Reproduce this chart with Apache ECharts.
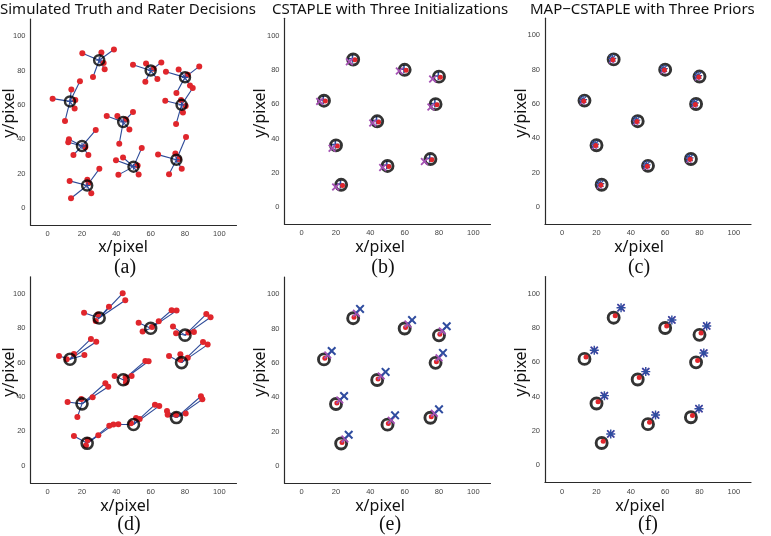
<!DOCTYPE html>
<html><head><meta charset="utf-8">
<script src="https://cdn.jsdelivr.net/npm/echarts@6/dist/echarts.min.js"></script>
<style>html,body{margin:0;padding:0;background:#fff}#c{width:771px;height:536px}</style>
</head><body><div id="c"></div>
<script>
// ---- data ----
const truthX = [30, 60, 80, 13, 78, 44, 20, 50, 75, 23];
const truthY = [86, 80, 76, 62, 60, 50, 36, 24, 28, 13];

// (a) unbiased rater decisions, 6 per truth point
const raterA = [
  [[20.2,90.1],[31.3,90.5],[38.6,92.2],[32.6,84.3],[33.2,80.8],[26.4,76.2]],
  [[49.7,83.3],[57.3,84.1],[66.2,84.7],[61.7,81],[63.9,75],[56.9,73.4]],
  [[68.9,79.3],[76.3,80.6],[88.3,82.4],[81.6,77.5],[82.9,71.3],[75,66.9]],
  [[2.9,63.6],[13.8,69],[18.8,73.8],[16.1,62.8],[15.7,57.9],[10.1,50.6]],
  [[68.5,62.4],[77.7,62.8],[80.4,59.3],[78.8,55.6],[74.8,48.8],[84.5,69.8]],
  [[34.4,53.5],[40.6,53.5],[49.7,55.8],[47.6,45.7],[41.7,37.4],[45.5,51.5]],
  [[12.4,39.9],[12,38.2],[28,45.3],[21.9,35.3],[23.7,30.8],[15,30.8]],
  [[39.8,27.7],[43.9,29.3],[54.8,34.9],[52.4,24.6],[53,19.4],[41.2,19.2]],
  [[64.3,31],[74.4,31.6],[80.6,41.3],[76.5,28.5],[78.1,22.7],[70.7,19.6]],
  [[12.8,15.7],[30.1,22.7],[23.1,16.3],[23.9,14.5],[25.4,8.5],[13.6,5.6]]
];
// (d) biased rater decisions
const raterD = [
  [[21.2,89.1],[29.3,88],[35.7,92.6],[43.7,100.4],[45.2,96.3],[28,84.3]],
  [[53,83.3],[55.3,78.1],[64.7,84.1],[72.2,90.5],[75.1,90.3],[60.8,80.8]],
  [[73,81],[74.8,77.1],[85.2,77.9],[92.4,88.3],[94.9,86.4],[82,77.5]],
  [[6.6,63.9],[15.3,65],[21.4,64.5],[25.2,73.8],[28.3,72.2],[11.1,61.9]],
  [[70.7,63.9],[77.3,64.9],[81.6,62.9],[90.5,72],[93.2,70.5],[77.3,61.7]],
  [[39,52.2],[45.4,51.5],[48.9,52.2],[56.9,61],[58.8,60.8],[45.6,48.5]],
  [[11.6,37.1],[19.6,38.8],[26.2,39.8],[33.6,48],[35.3,46],[17.3,28.3]],
  [[41.2,24.1],[51.5,27.8],[53.6,27.2],[62.5,35.5],[65,34.8],[48.5,24.7]],
  [[69.5,31.8],[69.9,29.7],[74.8,29.7],[80.4,30.3],[89.3,40.4],[90.1,38.6]],
  [[15.3,17.3],[23.3,15],[22.3,11.8],[29.5,17.7],[35.9,23.3],[38.3,23.9]]
];
// (b) CSTAPLE estimates
const initB_blue = [[29.6,86.4],[59.6,80.4],[79.6,76.4],[12.6,62.4],[77.6,60.4],[43.6,50.4],[19.6,36.4],[49.6,24.4],[74.6,28.4],[22.6,13.4]];
const estB_red   = [[31,85.9],[60.8,79.8],[80.8,75.6],[13.8,61.8],[78.8,59.6],[44.8,49.6],[20.8,35.6],[50.8,23.6],[75.8,27.6],[23.8,12.6]];
const estB_mag   = [[27.8,84.7],[56.9,79.3],[76.3,74.6],[10.5,61.6],[75.3,58.3],[41.4,49],[17.7,34.3],[47.2,23.1],[71.5,26.6],[19.8,11.8]];
// (c) MAP-CSTAPLE estimates
const estC_blue = [[29.2,86.6],[59.2,80.6],[79.2,76.6],[12.2,62.6],[77.2,60.6],[43.2,50.6],[19.2,36.6],[49.2,24.6],[74.2,28.6],[22.2,13.6]];
const estC_red  = [[29.6,85.8],[59.6,79.8],[79.6,75.8],[12.6,61.8],[77.6,59.8],[43.6,49.8],[19.6,35.8],[49.6,23.8],[74.6,27.8],[22.6,12.8]];
const estC_mag  = [[28.8,85.2],[58.8,79.2],[78.8,75.2],[11.8,61.2],[76.8,59.2],[42.8,49.2],[18.8,35.2],[48.8,23.2],[73.8,27.2],[21.8,12.2]];
// (e) CSTAPLE with biased raters
const estE_blue = [[34,91.4],[64.3,84.9],[84.5,81.3],[17.5,66.9],[82.3,65.8],[48.9,54.7],[24.7,40.7],[54.4,29.4],[80,32.9],[27.4,18.1]];
const estE_mag  = [[31.9,88.9],[61.9,82.6],[81.9,78.6],[15.2,64.6],[80,62.9],[46.3,52.4],[22.2,38.4],[52.2,26.6],[77.3,30.6],[25.2,15.6]];
const estE_red  = [[30.5,86.6],[60.5,80.6],[80.5,76.6],[13.5,62.6],[78.5,60.6],[44.5,50.6],[20.5,36.6],[50.5,24.6],[75.5,28.6],[23.5,13.6]];
// (f) MAP-CSTAPLE with biased raters
const estF_blue = [[34.3,91.8],[63.9,84.7],[84.2,81.2],[18.7,67],[82.5,65.4],[48.7,54.6],[24.6,40.6],[54.4,29.3],[79.7,33],[28.3,18.3]];
const estF_red  = [[30.9,87.1],[60.9,81.1],[80.9,77.1],[13.9,63.1],[78.9,61.1],[44.9,51.1],[20.9,37.1],[50.9,25.1],[75.9,29.1],[23.9,14.1]];

const titles = ['Simulated Truth and Rater Decisions','CSTAPLE with Three Initializations','MAP\u2212CSTAPLE with Three Priors'];
const panelLabels = ['(a)','(b)','(c)','(d)','(e)','(f)'];
const axisMin = -10, axisMax = 110;

// ---- styling / layout ----
const RED = '#e0262c', BLUE = '#2f4c9f', MAG = '#a552b4', LINE = '#2d4a98';
const XPATH = 'path://M0,1.6 L1.6,0 L5,3.4 L8.4,0 L10,1.6 L6.6,5 L10,8.4 L8.4,10 L5,6.6 L1.6,10 L0,8.4 L3.4,5 Z';
const PLUS = 'path://M4,0 L6,0 L6,4 L10,4 L10,6 L6,6 L6,10 L4,10 L4,6 L0,6 L0,4 L4,4 Z';
const STAR = 'path://M4.2,0 L5.8,0 L5.8,4.2 L10,4.2 L10,5.8 L5.8,5.8 L5.8,10 L4.2,10 L4.2,5.8 L0,5.8 L0,4.2 L4.2,4.2 Z M1.5,0.4 L5,3.9 L8.5,0.4 L9.6,1.5 L6.1,5 L9.6,8.5 L8.5,9.6 L5,6.1 L1.5,9.6 L0.4,8.5 L3.9,5 L0.4,1.5 Z';

const grids = [
  {left:30.5, top:19, width:206, height:206},
  {left:284.5, top:18.3, width:206, height:206},
  {left:545, top:18.2, width:206, height:206},
  {left:30.5, top:276.8, width:206, height:206},
  {left:284.5, top:277, width:206, height:206},
  {left:545, top:276.5, width:206, height:206}
];

const truth = truthX.map((x,i)=>[x,truthY[i]]);

function mkAxis(i){return {type:'value',gridIndex:i,min:axisMin,max:axisMax,interval:10,
  axisLine:{show:true,onZero:false,lineStyle:{color:'#2a2a2a',width:1.2}},axisTick:{show:false},splitLine:{show:false},
  axisLabel:{fontSize:7.5,color:'#444',margin:5,fontFamily:'Liberation Sans',
    formatter:v=>(v>=0&&v<=100&&v%20===0)?String(v):''}};}

function sc(g,data,symbol,size,color,z,extra){
  return Object.assign({type:'scatter',xAxisIndex:g,yAxisIndex:g,data:data,symbol:symbol,symbolSize:size,z:z,
    silent:true,animation:false,itemStyle:{color:color,opacity:1}},extra||{});
}
function ring(g,size,bw){
  return sc(g,truth,'circle',size,'rgba(0,0,0,0)',6,{itemStyle:{color:'rgba(0,0,0,0)',borderColor:'#000',borderWidth:bw}});
}
function links(g,raters){
  const d=[];
  raters.forEach((arr,i)=>arr.forEach(p=>d.push({coords:[truth[i],p]})));
  return {type:'lines',coordinateSystem:'cartesian2d',xAxisIndex:g,yAxisIndex:g,data:d,z:2,silent:true,animation:false,
    lineStyle:{color:LINE,width:1.1,opacity:1}};
}
const flat = a=>a.reduce((r,x)=>r.concat(x),[]);

const series = [
  // (a)
  links(0,raterA),
  sc(0,flat(raterA),'circle',6,RED,4),
  ring(0,10,2.5),
  sc(0,truth,PLUS,6,BLUE,7),
  // (b)
  sc(1,initB_blue,PLUS,8,BLUE,3),
  ring(1,11,2.9),
  sc(1,estB_red,'circle',5,RED,7),
  sc(1,estB_mag,XPATH,8,MAG,8),
  // (c)
  ring(2,11,2.9),
  sc(2,estC_mag,XPATH,6,MAG,6),
  sc(2,estC_blue,STAR,8,BLUE,7),
  sc(2,estC_red,'circle',5,RED,8),
  // (d)
  links(3,raterD),
  sc(3,flat(raterD),'circle',6,RED,4),
  ring(3,11,2.6),
  // (e)
  ring(4,11,2.9),
  sc(4,estE_red,'circle',5,RED,7),
  sc(4,estE_mag,XPATH,8,MAG,8),
  sc(4,estE_blue,XPATH,9,BLUE,9),
  // (f)
  ring(5,11,2.9),
  sc(5,estF_red,'circle',5,RED,7),
  sc(5,estF_blue,XPATH,8,MAG,8),
  sc(5,estF_blue,STAR,9,BLUE,9)
];

// text elements
const g = [];
const titleX = [0, 272, 530];
titles.forEach((t,i)=>g.push({type:'text',x:titleX[i],y:10,style:{text:t,font:'15px "Noto Sans"',fill:'#111',textAlign:'left',textVerticalAlign:'middle'}}));
const xlabCx = [123,380,639,125,380,640];
const xlabY = [247,247,247,506,506,506];
const plabCx = [125,383,639,129,390,648];
const plabY = [268,268,268,525,525,525];
const ylabX = [9,260,521,9,260,521];
const ylabY = [113,113,113,372,372,372];
for(let i=0;i<6;i++){
  g.push({type:'text',x:xlabCx[i],y:xlabY[i],style:{text:'x/pixel',font:'16px "Noto Sans"',fill:'#111',textAlign:'center',textVerticalAlign:'middle'}});
  g.push({type:'text',x:plabCx[i],y:plabY[i],style:{text:panelLabels[i],font:'20px "Liberation Serif"',fill:'#111',textAlign:'center',textVerticalAlign:'middle'}});
  g.push({type:'text',x:ylabX[i],y:ylabY[i],rotation:Math.PI/2,style:{text:'y/pixel',font:'16px "Noto Sans"',fill:'#111',textAlign:'center',textVerticalAlign:'middle'}});
}

const chart = echarts.init(document.getElementById('c'),null,{renderer:'canvas'});
chart.setOption({
  animation:false,
  backgroundColor:'#fff',
  grid:grids,
  xAxis:[0,1,2,3,4,5].map(mkAxis),
  yAxis:[0,1,2,3,4,5].map(mkAxis),
  series:series,
  graphic:g
});
</script></body></html>
